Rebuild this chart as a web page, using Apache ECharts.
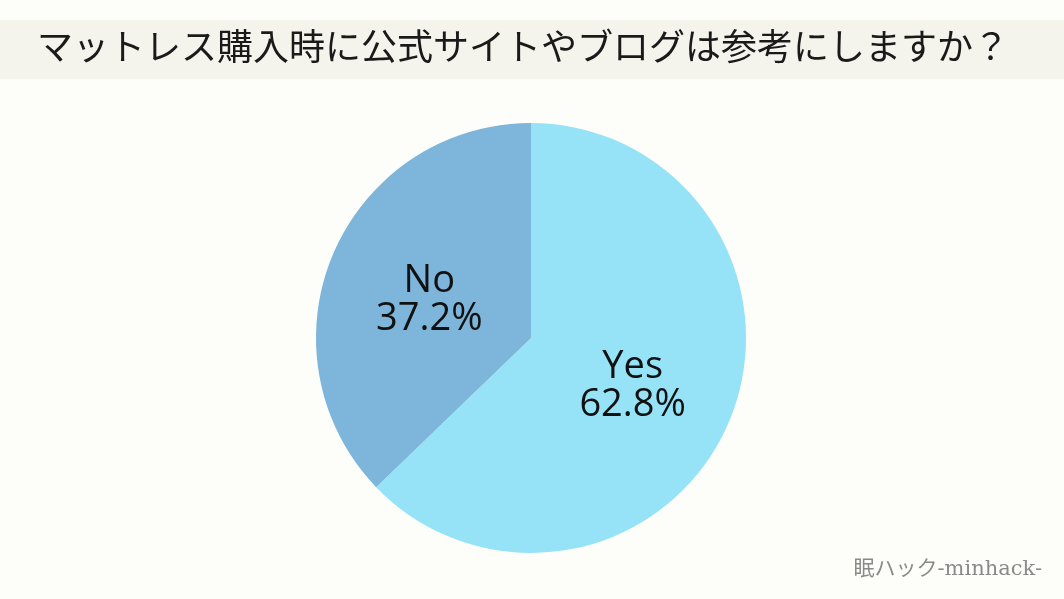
<!DOCTYPE html>
<html><head><meta charset="utf-8">
<script src="https://cdn.jsdelivr.net/npm/echarts@6/dist/echarts.min.js"></script>
<style>html,body{margin:0;padding:0;background:#fdfdf9;}#c{width:1064px;height:599px;}</style>
</head><body><div id="c"></div>
<script>
const titleText = 'マットレス購入時に公式サイトやブログは参考にしますか？';
const categories = ['Yes', 'No'];
const values = [62.8, 37.2];
const colors = ['#96e3f8', '#7db6da'];
const watermark = '眠ハック-minhack-';

const chart = echarts.init(document.getElementById('c'));
chart.setOption({
  backgroundColor: '#fdfdf9',
  animation: false,
  graphic: [
    { type: 'rect', left: 0, top: 20, shape: { width: 1064, height: 59 }, style: { fill: '#f4f4ec' }, z: 0 },
    { type: 'text', left: 37, top: 28, style: { text: titleText, fontSize: 36, fontWeight: 'normal', fontFamily: 'Noto Sans CJK JP', fill: '#1a1a1a' }, z: 2 },
    { type: 'text', right: 22, top: 559, style: { text: watermark, fontSize: 21, fontFamily: 'DejaVu Serif, Noto Sans CJK JP', fill: '#8a8a8a' }, z: 2 }
  ],
  series: [{
    type: 'pie',
    center: [531, 338],
    radius: [0, 215],
    startAngle: 90,
    clockwise: true,
    label: {
      show: true,
      position: 'inside',
      formatter: p => p.name + '\n' + p.value.toFixed(1) + '%',
      fontSize: 38,
      lineHeight: 38,
      offset: [0, 5],
      color: '#111',
      fontFamily: 'Open Sans, Noto Sans, sans-serif'
    },
    labelLine: { show: false },
    emphasis: { disabled: true },
    itemStyle: { borderWidth: 0 },
    data: categories.map((c, i) => ({ name: c, value: values[i], itemStyle: { color: colors[i] } }))
  }]
});
</script></body></html>
